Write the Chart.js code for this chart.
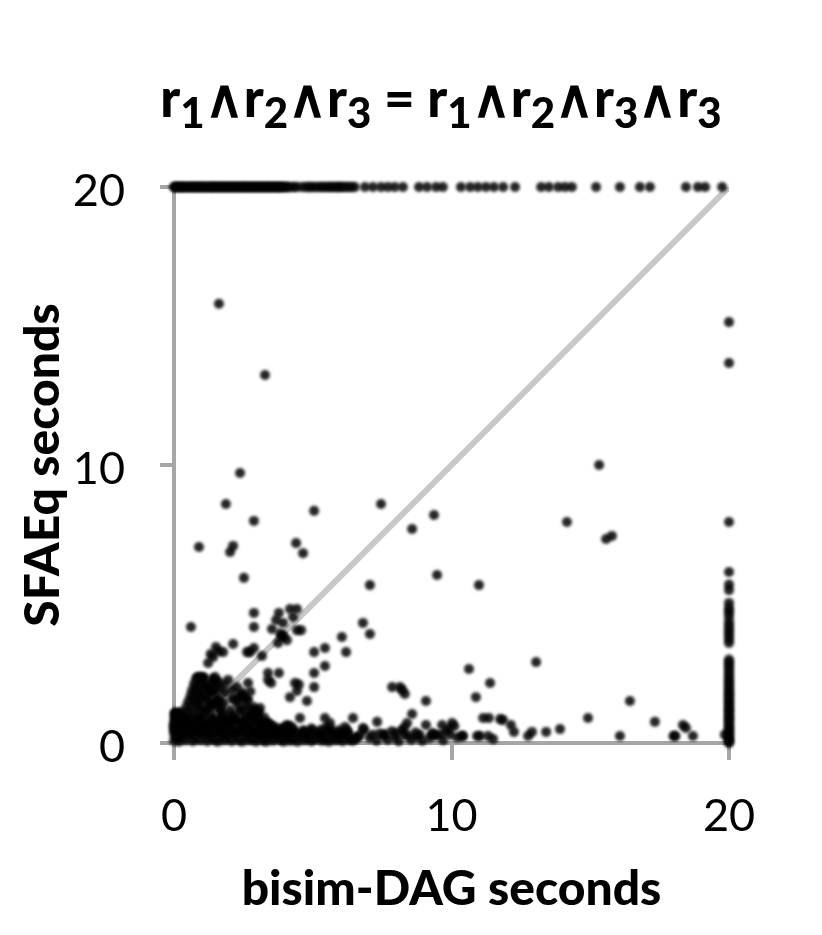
<!DOCTYPE html>
<html lang="en">
<head>
<meta charset="UTF-8">
<title>SFAEq vs bisim-DAG</title>
<script src="https://cdn.jsdelivr.net/npm/chart.js@4.4.1/dist/chart.umd.min.js"></script>
<style>
  html, body { margin: 0; padding: 0; background: #fff; }
  #wrap { position: relative; width: 822px; height: 935px; overflow: hidden; }
  #grafico { position: absolute; left: 0; top: 0; }
  #titulo {
    position: absolute; left: 0; top: 67px; width: 882px; text-align: center;
    font: 900 53px Lato, sans-serif; color: #000; white-space: nowrap; line-height: 60px;
  }
  #titulo sub { font-size: 42px; line-height: 0; vertical-align: -11px; }
</style>
</head>
<body>
<div id="wrap">
  <canvas id="grafico" width="822" height="935"></canvas>
  <div id="titulo">r<sub>1</sub>∧r<sub>2</sub>∧r<sub>3</sub> = r<sub>1</sub>∧r<sub>2</sub>∧r<sub>3</sub>∧r<sub>3</sub></div>
</div>

<script>
  const xTicks = [0, 10, 20];
  const yTicks = [0, 10, 20];
  const diagonal = [0, 20];

  // timed out on SFAEq (top row)
  const topRowX = [0,.05,.12,.2,.27,.34,.42,.5,.58,.65,.72,.8,.88,.95,1.03,1.1,1.18,1.26,1.34,1.4,1.48,1.55,1.63,1.7,1.78,1.85,1.93,2,
    2.08,2.15,2.23,2.3,2.38,2.46,2.53,2.6,2.68,2.75,2.83,2.9,2.98,3.05,3.13,3.2,3.28,3.36,3.43,3.5,3.58,3.66,3.73,3.8,3.88,3.96,4.05,4.15,
    4.3,4.42,4.62,4.78,4.9,5.03,5.17,5.3,5.42,5.55,5.66,5.78,5.9,6,6.12,6.25,6.38,
    6.52,6.88,7.17,7.46,7.71,7.96,8.25,8.83,9.12,9.44,9.69,10.34,10.67,10.95,11.24,11.53,11.86,12.29,
    13.23,13.51,13.84,14.09,14.34,15.21,16.07,16.79,17.15,18.45,18.88,19.14,19.75];

  // timed out on bisim-DAG (right column)
  const rightColY = [15.14,13.67,7.95,6.15,5.7,5.5,5.04,4.85,4.71,4.55,4.35,4.2,4.05,3.9,3.75,3.6,
    3,2.88,2.75,2.62,2.48,2.35,2.22,2.1,1.98,1.86,1.75,1.64,1.52,1.42,1.3,1.2,1.1,.98,.88,.78,.66,.56,.46,.35,.25,.15,.06,0];

  const outlierX = [1.62,3.28,2.38,1.87,.9,2.13,2.02,2.88,5.05,4.4,4.65,2.52,7.46,8.58,9.37,9.48,7.06,10.99,14.16,15.32,15.57,15.78,
    .61,2.88,2.88,3.78,4.18,4.43,4.29,3.68,3.93,3.53,4.43,4.58,3.89,3.75,4.07,3.82,3.95,6.81,7.06,6.05,6.2,5.44,5.05,5.44,5.05,5.05,
    4.79,4.18,4.43,4.36,4.5,3.78,3.39,3.39,3.5,3.17,2.88,2.74,2.63,2.13,1.51,1.77,1.41,1.23,1.32,1.6,
    7.86,8.14,8.22,8.32,9.08,10.63,11.39,10.88,13.05,14.92,16.43,17.33,16.07,18,18.07,18.34,18.45,18.7,19.85];
  const outlierY = [15.8,13.24,9.71,8.6,7.05,7.09,6.87,7.99,8.35,7.19,6.83,5.94,8.6,7.7,8.2,6.04,5.68,5.68,7.95,10,7.34,7.45,
    4.17,4.68,4.17,4.68,4.82,4.82,4.53,4.42,4.32,4.1,4.06,4.06,3.81,3.6,3.7,3.95,3.85,4.32,3.92,3.81,3.27,3.42,3.27,2.77,2.52,2.01,
    1.51,1.65,1.87,2.16,2.1,2.52,2.52,2.27,2.16,3.13,3.42,3.27,3.27,3.56,3.45,3.27,3.09,2.88,3.2,3.3,
    2.01,2.01,1.91,1.76,1.51,2.66,2.16,1.65,2.91,.9,1.51,.76,.25,.25,.25,.65,.54,.25,.3];

  // wedge near the origin
  const clusterX = [.8,.95,1.1, .72,.85,1,1.15, .65,.8,.95,1.1,1.25, .6,.75,.9,1.05, .52,.68,.85,1,1.2,1.4, .45,.62,.8,.95,1.15,
    .1,.3,.5,.7,.9,1.1,1.35, .05,.2,.35,.5,.65,.85,1,1.2,1.45,1.7, 0,.15,.3,.45,.6,.75,.9,1.1,1.3,1.5,1.7,1.9,2.1,
    0,.12,.28,.42,.58,.72,.88,1.05,1.22,1.38,1.55,1.72,1.88,2.05,2.22,2.4,2.58,
    1.95,1.48,2.67,2.27,2.38,2.67,3.1,2.99,2.02,2.38,1.59,1.84,1.3,1.41,1.05,.86,1.7,2.5,2.75,2.2,2.45,2.85,1.5,1.95,2.15,1.75,2.6,2.8,3.05,3.15,3.2,2.95,
    1.25,1.35,1.5,1.62,1.2,1.35,1.55,1.68,1.8,1.32,1.48,1.65,2.1,2.3,2.55,2.72,2.9,2,2.25,2.5,2.7,2.85,3.05,3.25,2.1,2.35,2.6,2.8,3.3,3.45,3.6,3.4,3.1,3.75,
    1.9,2.05,1.8,2.15,2.3,2.45,2.65,2.55,2.9,3.0,3.15,3.35,2.75,2.95,1.4,1.6,1.8,2.45,2.6,3.9,4.05,3.55];
  const clusterY = [2.32,2.36,2.3, 2.12,2.1,2.15,2.08, 1.9,1.92,1.88,1.95,1.88, 1.7,1.72,1.68,1.74, 1.5,1.52,1.48,1.55,1.5,1.46, 1.3,1.28,1.32,1.3,1.25,
    1.08,1.12,1.1,1.06,1.12,1.1,1.05, .9,.88,.92,.9,.86,.92,.88,.9,.85,.92, .72,.7,.68,.72,.7,.74,.68,.7,.72,.68,.72,.7,.66,
    .5,.52,.48,.5,.54,.48,.52,.5,.46,.52,.5,.48,.54,.5,.48,.52,.5,
    2.27,2.37,2.16,2.01,1.55,1.55,1.26,1.08,1.19,1.12,1.47,1.8,1.29,2.16,2.37,2.37,1.28,1.7,1.85,1.55,1.82,1.3,1.95,.98,1.02,1.05,.98,.72,.9,.55,.7,.42,
    2.05,1.85,1.7,1.55,1.65,1.4,1.3,1.15,1.45,1.85,2.2,1.95,1.6,1.35,.85,1.2,1.15,.8,.78,.6,.62,1.02,1.1,.92,1.9,1.7,1.6,.5,.62,.55,.42,.72,.55,.4,
    .78,.82,.62,.9,.82,.72,.85,.62,.75,.85,.72,.62,1.0,1.15,2.3,2.2,2.1,1.2,1.35,.5,.58,.62];

  // band along the x axis
  const floorX = [0,.08,.18,.3,.42,.55,.68,.8,.95,1.08,1.2,1.32,1.45,1.58,1.7,1.82,1.95,2.08,2.2,2.32,2.45,2.58,2.7,2.82,2.95,3.08,3.2,3.32,3.45,3.58,3.7,3.82,3.95,4.08,4.2,4.32,4.45,4.58,4.7,4.82,4.95,5.08,5.2,5.32,5.45,5.58,5.7,5.82,5.95,6.08,6.2,6.32,6.45,6.55,
    0,.1,.25,.4,.55,.7,.85,1,1.15,1.3,1.45,1.6,1.75,1.9,2.05,2.2,2.35,2.5,2.65,2.8,2.95,3.1,3.25,3.4,3.55,3.9,4.05,4.2,4.4,4.75,5,5.25,5.5,5.75,6,6.2,
    3.35,3.6,4.07,4.2,4.54,5.44,5.62,5.5,6.45,6.16,6.81,6.85,7.32,8.58,8.4,8.3,9.08,10.02,10.1,9.66,9.9,10.38,
    7.05,7.3,7.55,7.7,7.95,8.1,8.3,8.55,8.75,8.95,9.2,9.45,9.7,9.95,10.2,7.4,7.85,8.2,8.7,9.3,9.8,
    10.41,10.92,11.03,11.32,11.5,11.14,11.35,11.75,11.86,12.14,12.25,12.9,12.76,13.41,13.91,
    0,.05,.02,.1,.04,.15,.2,.28,.35,.5,.62,.78,.92,1.1,1.25,1.4,1.55,1.7,.08,.18,.3,.22,.4,2.95,3.15,3.3,3.5,3.7,3.85,4.1,4.3,4.55,4.7,4.9,5.15,5.35,5.6,5.85,6.05,6.3,6.6,
    3.05,3.45,3.8,4.3,4.65,4.95,5.3,5.65,5.95,6.25,6.7,7.15,7.6,8,8.45,8.85,9.35,9.6];
  const floorY = [.08,.22,.05,.2,.1,.25,.06,.18,.1,.24,.06,.2,.12,.05,.22,.1,.18,.06,.24,.12,.05,.2,.1,.15,.05,.2,.1,.05,.18,.08,.22,.12,.05,.2,.08,.16,.05,.22,.1,.18,.06,.14,.22,.08,.15,.05,.2,.1,.16,.06,.22,.12,.08,.18,
    .35,.38,.33,.4,.36,.34,.4,.37,.35,.38,.34,.4,.36,.33,.38,.35,.4,.36,.34,.38,.35,.4,.33,.38,.36,.4,.35,.42,.36,.4,.44,.35,.42,.38,.34,.4,
    .72,.55,.65,.6,.9,.9,.72,.58,.9,.58,.54,.46,.76,1.04,.72,.55,.65,.72,.6,.65,.52,.25,
    .18,.08,.25,.12,.2,.06,.3,.12,.22,.08,.18,.28,.1,.3,.2,.34,.42,.45,.38,.36,.42,
    .25,.25,.25,.25,.14,.9,.9,.86,.83,.65,.4,.4,.25,.4,.5,
    .6,.85,1.02,.75,1.1,.95,1.05,.6,.9,.75,.65,.62,.8,.6,.62,.82,.7,.85,.5,.62,.55,.75,.58,.32,.28,.36,.3,.34,.28,.3,.34,.3,.32,.28,.34,.3,.36,.28,.32,.3,.2,
    .5,.48,.52,.5,.46,.52,.48,.5,.46,.44,.28,.3,.32,.35,.26,.3,.28,.3];

  const toPoints = (xs, ys) => xs.map((x, i) => ({ x: x, y: ys[i] }));
  const puntos = [].concat(
    topRowX.map(x => ({ x: x, y: 20 })),
    rightColY.map(y => ({ x: 20, y: y })),
    toPoints(outlierX, outlierY),
    toPoints(clusterX, clusterY),
    toPoints(floorX, floorY)
  );

  const axisColor = "#a6a6a6";
  const tickFont = { family: "Lato, sans-serif", size: 45 };
  const labelFont = { family: "Lato, sans-serif", size: 48, weight: "900" };

  // marks in the reference are soft, blur them a little
  const blurPoints = {
    id: "blurPoints",
    beforeDatasetDraw(chart, args) {
      if (args.index === 1) { chart.ctx.save(); chart.ctx.filter = "blur(1.5px)"; }
    },
    afterDatasetDraw(chart, args) {
      if (args.index === 1) chart.ctx.restore();
    }
  };

  new Chart(document.getElementById("grafico"), {
    type: "scatter",
    data: {
      datasets: [
        {
          type: "line",
          data: toPoints(diagonal, diagonal),
          borderColor: "#c8c8c8",
          borderWidth: 6,
          pointRadius: 0,
          order: 2
        },
        {
          data: puntos,
          backgroundColor: "rgba(0,0,0,0.85)",
          borderWidth: 0,
          pointRadius: 5,
          clip: false,
          order: 1
        }
      ]
    },
    plugins: [blurPoints],
    options: {
      responsive: false,
      animation: false,
      layout: { padding: { top: 187, right: 93, left: 0, bottom: 0 } },
      plugins: { legend: { display: false }, tooltip: { enabled: false } },
      scales: {
        x: {
          type: "linear",
          min: 0,
          max: 20,
          afterFit(scale) { scale.height = 192; },
          afterBuildTicks(scale) { scale.ticks = xTicks.map(v => ({ value: v })); },
          border: { color: axisColor, width: 4 },
          grid: { drawOnChartArea: false, color: axisColor, lineWidth: 4, tickLength: 17 },
          ticks: { color: "#000", font: tickFont, padding: 29, maxRotation: 0 },
          title: { display: true, text: "bisim-DAG seconds", color: "#000", font: labelFont, padding: { top: 0, bottom: 17 } }
        },
        y: {
          type: "linear",
          min: 0,
          max: 20,
          afterFit(scale) { scale.width = 174; },
          afterBuildTicks(scale) { scale.ticks = yTicks.map(v => ({ value: v })); },
          border: { color: axisColor, width: 4 },
          grid: { drawOnChartArea: false, color: axisColor, lineWidth: 4, tickLength: 14 },
          ticks: { color: "#000", font: tickFont, padding: 35, labelOffset: 4 },
          title: { display: true, text: "SFAEq seconds", color: "#000", font: labelFont, padding: { top: 15, bottom: 0 } }
        }
      }
    }
  });
</script>
</body>
</html>
